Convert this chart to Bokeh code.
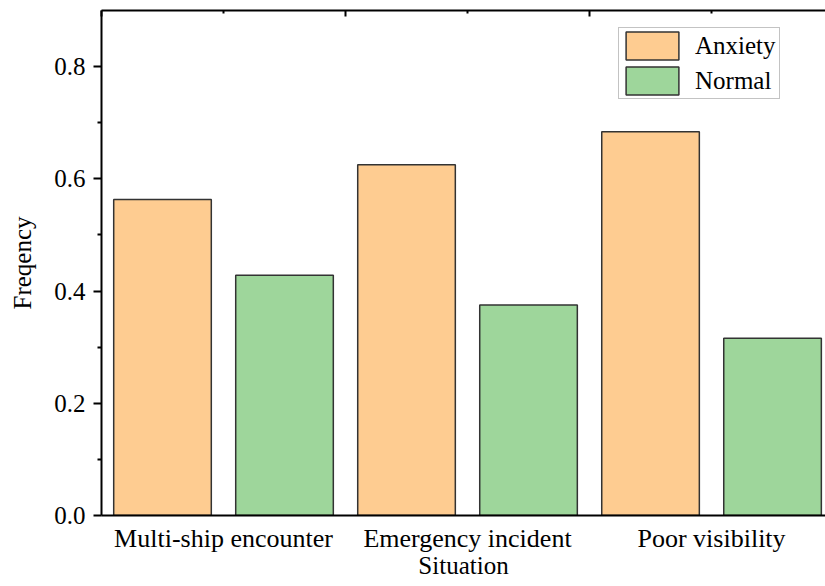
import numpy as np
from bokeh.plotting import figure
from bokeh.models import FixedTicker, LinearAxis, ColumnDataSource
from bokeh.embed import file_html
from bokeh.resources import INLINE

categories = ["Multi-ship encounter", "Emergency incident", "Poor visibility"]
anxiety = [0.563, 0.625, 0.684]
normal = [0.428, 0.375, 0.316]
y_ticks = [0.0, 0.2, 0.4, 0.6, 0.8]
y_minor = [0.1, 0.3, 0.5, 0.7]

FONT = "Liberation Serif"
idx = np.arange(len(categories))

p = figure(width=825, height=586, x_range=(-0.5, 2.467), y_range=(0, 0.9),
           output_backend="svg", toolbar_location=None,
           min_border_left=101, min_border_right=0, min_border_top=10,
           min_border_bottom=71)
p.outline_line_color = None
p.xgrid.visible = False
p.ygrid.visible = False
p.background_fill_color = "white"
p.border_fill_color = "white"

src_a = ColumnDataSource(dict(x=idx - 0.25, top=anxiety))
src_n = ColumnDataSource(dict(x=idx + 0.25, top=normal))
p.vbar(x="x", top="top", bottom=0, width=0.4, source=src_a,
       fill_color="#FECC91", line_color="#333333", line_width=1.5,
       legend_label="Anxiety")
p.vbar(x="x", top="top", bottom=0, width=0.4, source=src_n,
       fill_color="#9ED69B", line_color="#333333", line_width=1.5,
       legend_label="Normal")

# bottom axis
xa = p.xaxis[0]
xa.ticker = FixedTicker(ticks=list(idx))
xa.major_label_overrides = {int(i): c for i, c in zip(idx, categories)}
xa.major_tick_line_color = None
xa.minor_tick_line_color = None
xa.axis_line_width = 2
xa.axis_line_color = "black"
xa.major_label_text_font = FONT
xa.major_label_text_font_size = "26px"
xa.major_label_text_color = "black"
xa.major_label_standoff = 2
xa.axis_label = "Situation"
xa.axis_label_text_font = FONT
xa.axis_label_text_font_size = "25px"
xa.axis_label_text_font_style = "normal"
xa.axis_label_text_color = "black"
xa.axis_label_standoff = -4

# left axis
ya = p.yaxis[0]
ya.ticker = FixedTicker(ticks=y_ticks, minor_ticks=y_minor)
ya.major_label_overrides = {t: f"{t:.1f}" for t in y_ticks}
ya.axis_line_width = 2
ya.axis_line_color = "black"
ya.major_tick_in = 0
ya.major_tick_out = 8
ya.major_tick_line_width = 2
ya.minor_tick_in = 0
ya.minor_tick_out = 4
ya.minor_tick_line_width = 2
ya.major_label_text_font = FONT
ya.major_label_text_font_size = "25px"
ya.major_label_text_color = "black"
ya.major_label_standoff = 8
ya.axis_label = "Freqency"
ya.axis_label_text_font = FONT
ya.axis_label_text_font_size = "25px"
ya.axis_label_text_font_style = "normal"
ya.axis_label_text_color = "black"
ya.axis_label_standoff = 15

# top frame border: two label-free axes (long ticks at group edges, short at centres)
top_edges = LinearAxis(ticker=FixedTicker(ticks=[], minor_ticks=[-0.5, 0.5, 1.5, 2.5]))
top_edges.axis_line_width = 2
top_edges.axis_line_color = "black"
top_edges.major_tick_line_color = None
top_edges.minor_tick_in = 6
top_edges.minor_tick_out = 0
top_edges.minor_tick_line_width = 2
top_edges.major_label_standoff = 0
p.add_layout(top_edges, "above")

top_mid = LinearAxis(ticker=FixedTicker(ticks=[], minor_ticks=list(idx)))
top_mid.axis_line_color = None
top_mid.major_tick_line_color = None
top_mid.minor_tick_in = 3
top_mid.minor_tick_out = 0
top_mid.minor_tick_line_width = 2
top_mid.major_label_standoff = 0
p.add_layout(top_mid, "above")

lg = p.legend[0]
lg.location = (517, 416)
lg.label_text_font = FONT
lg.label_text_font_size = "25px"
lg.label_text_color = "black"
lg.glyph_width = 66
lg.glyph_height = 35
lg.label_height = 35
lg.label_width = 84
lg.label_standoff = 10
lg.spacing = -3
lg.padding = 0
lg.margin = 0
lg.border_line_color = "#888888"
lg.border_line_width = 1
lg.background_fill_alpha = 1.0

open("out.html", "w").write(file_html(p, INLINE))
